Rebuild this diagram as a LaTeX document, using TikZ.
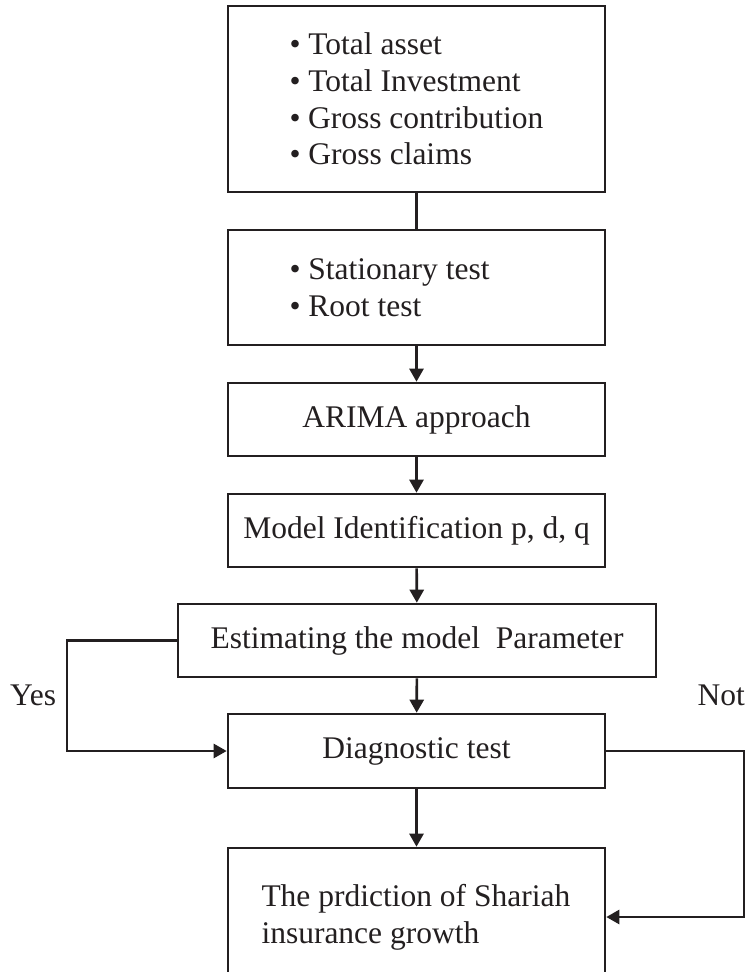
\documentclass[tikz,border=0pt]{standalone}
\usepackage{fontspec}
\setmainfont{Liberation Serif}
\usetikzlibrary{arrows.meta}
\definecolor{ink}{HTML}{231F20}
\tikzset{
  box/.style={draw=ink, line width=2.6pt, rectangle, minimum width=377pt, inner sep=0pt, text=ink, align=center, font=\fontsize{31.5}{36.7}\selectfont},
  conn/.style={draw=ink, line width=2.6pt},
  arr/.style={conn, -{Triangle[length=13pt,width=14pt]}},
  lbl/.style={text=ink, inner sep=0pt, font=\fontsize{31.5}{36.7}\selectfont}
}
\begin{document}
\begin{tikzpicture}[x=1pt,y=-1pt]
\useasboundingbox (0,0) rectangle (748,972);
\clip (0,0) rectangle (748,972);
\node[box, minimum height=186pt] (b1) at (416.5,99) {\parbox{254pt}{\raggedright\textbullet\ Total asset\\\textbullet\ Total Investment\\\textbullet\ Gross contribution\\\textbullet\ Gross claims}};
\node[box, minimum height=115pt] (b2) at (416.5,287.5) {\parbox{254pt}{\raggedright\textbullet\ Stationary test\\\textbullet\ Root test}};
\node[box, minimum height=73pt] (b3) at (416.5,419.5) {ARIMA approach};
\node[box, minimum height=73pt] (b4) at (416.5,530.5) {Model Identification p, d, q};
\node[box, minimum height=73pt, minimum width=478pt] (b5) at (417,640.5) {Estimating the model\ \ Parameter};
\node[box, minimum height=74pt] (b6) at (416.5,751) {Diagnostic test};
\node[box, minimum height=138pt] (b7) at (416.5,917) {\parbox{310pt}{\raggedright The prdiction of Shariah\\insurance growth}};
\node[lbl, anchor=base west] (yes) at (10,705) {Yes};
\node[lbl, anchor=base east] (not) at (745,705) {Not};
\coordinate (yesx) at (67,700);
\coordinate (notx) at (744,700);
\draw[conn] (b1) -- (b2);
\draw[arr] (b2) -- (b3);
\draw[arr] (b3) -- (b4);
\draw[arr] (b4) -- (b5);
\draw[arr] (b5) -- (b6);
\draw[arr] (b6) -- (b7);
\draw[arr] (b5.west) -- (b5.west -| yesx) |- (b6.west);
\draw[arr] (b6.east) -- (b6.east -| notx) |- (b7.east);
\end{tikzpicture}
\end{document}
